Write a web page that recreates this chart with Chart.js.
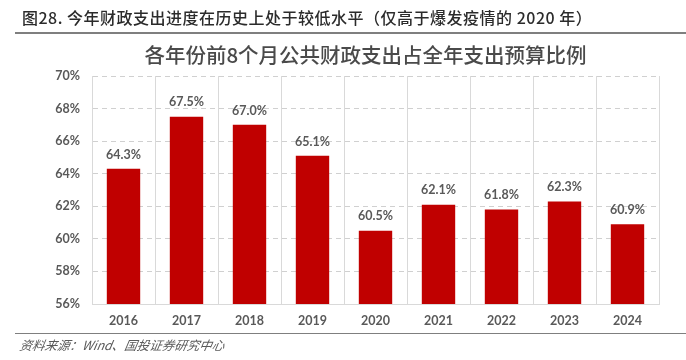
<!DOCTYPE html>
<html><head><meta charset="utf-8">
<script src="https://cdn.jsdelivr.net/npm/chart.js@4/dist/chart.umd.min.js"></script>
<style>
html,body{margin:0;padding:0;background:#fff;}
#wrap{position:relative;width:686px;height:360px;overflow:hidden;}
#hdr{position:absolute;left:22px;top:5px;font:500 16px "Noto Sans CJK SC";letter-spacing:0.5px;color:#2b2b2b;white-space:nowrap;}
#hline{position:absolute;left:15px;top:32px;width:671px;height:2px;background:#7f7f7f;}
#ttl{position:absolute;left:80px;width:571px;top:39px;text-align:center;font:500 20.5px "Noto Sans CJK SC";color:#4a4a4a;white-space:nowrap;}
#fline{position:absolute;left:15px;top:333px;width:671px;height:1px;background:#7f7f7f;}
#ftr{position:absolute;left:20px;top:335px;font:italic 12.5px "Noto Sans CJK SC";color:#595959;white-space:nowrap;transform:skewX(-10deg);transform-origin:left;}
canvas{position:absolute;left:0;top:0;}
</style></head><body>
<div id="wrap">
<canvas id="c" width="686" height="360"></canvas>
<div id="hdr">图28. 今年财政支出进度在历史上处于较低水平（仅高于爆发疫情的 2020 年）</div>
<div id="hline"></div>
<div id="ttl">各年份前8个月公共财政支出占全年支出预算比例</div>
<div id="fline"></div>
<div id="ftr">资料来源：Wind、国投证券研究中心</div>
</div>
<script>
const categories = ['2016','2017','2018','2019','2020','2021','2022','2023','2024'];
const shareValues = [64.3, 67.5, 67.0, 65.1, 60.5, 62.1, 61.8, 62.3, 60.9];
const yTicks = [56, 58, 60, 62, 64, 66, 68, 70];

const labelPlugin = {
  id: 'barLabels',
  afterDatasetsDraw(chart) {
    const ctx = chart.ctx;
    const meta = chart.getDatasetMeta(0);
    ctx.save();
    ctx.font = 'bold 12.5px Lato';
    ctx.fillStyle = '#595959';
    ctx.textAlign = 'center';
    ctx.textBaseline = 'bottom';
    meta.data.forEach((bar, i) => {
      ctx.fillText(shareValues[i].toFixed(1) + '%', bar.x, bar.y - 8);
    });
    ctx.restore();
  }
};

new Chart(document.getElementById('c'), {
  type: 'bar',
  data: {
    labels: categories,
    datasets: [{
      data: shareValues,
      backgroundColor: '#C00000',
      borderWidth: 0,
      barPercentage: 0.53,
      categoryPercentage: 1.0
    }]
  },
  options: {
    responsive: false,
    animation: false,
    layout: { padding: { top: 76, right: 27, bottom: 0, left: 0 } },
    plugins: { legend: { display: false }, tooltip: { enabled: false } },
    scales: {
      x: {
        grid: { offset: true, color: '#D9D9D9', lineWidth: 1, drawTicks: false },
        border: { color: '#D9D9D9' },
        ticks: { color: '#595959', font: { family: 'Lato', size: 12.5, weight: 'bold' }, padding: 9 },
        afterFit(s) { s.height = 56; }
      },
      y: {
        min: 56, max: 70,
        afterBuildTicks(s) { s.ticks = yTicks.map(v => ({ value: v })); },
        grid: { color: '#D0D0D0', lineWidth: 1, drawTicks: false },
        border: { color: '#D9D9D9', dash: [5, 4], display: true },
        ticks: { color: '#595959', font: { family: 'Lato', size: 12.5, weight: 'bold' }, padding: 12,
                 callback: v => v + '%' },
        afterFit(s) { s.width = 92; }
      }
    }
  },
  plugins: [labelPlugin]
});
</script>
</body></html>
